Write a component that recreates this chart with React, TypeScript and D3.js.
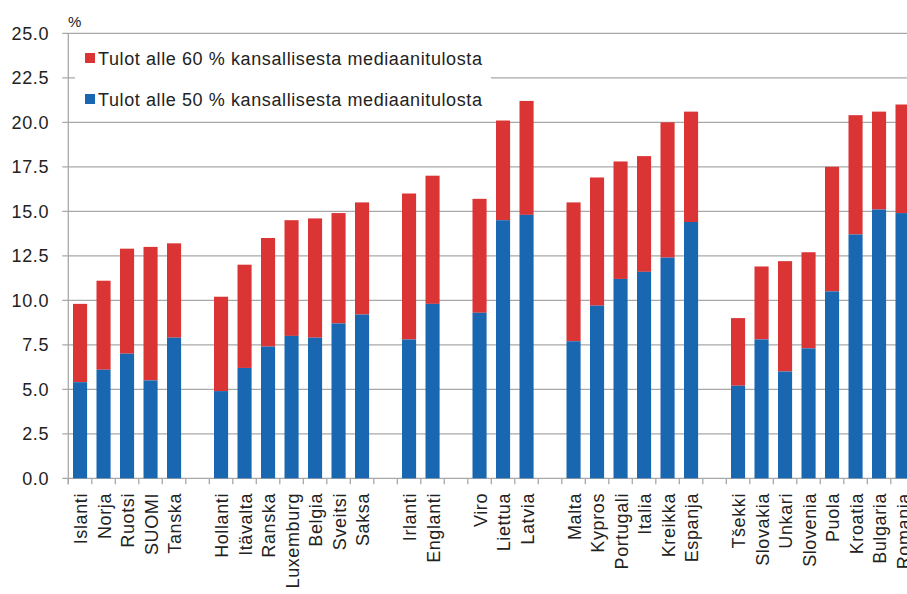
import React from "react";
import * as d3 from "d3";

// countries in display order, split into regional groups
const countries = [
  "Islanti", "Norja", "Ruotsi", "SUOMI", "Tanska",
  "Hollanti", "Itävalta", "Ranska", "Luxemburg", "Belgia", "Sveitsi", "Saksa",
  "Irlanti", "Englanti",
  "Viro", "Liettua", "Latvia",
  "Malta", "Kypros", "Portugali", "Italia", "Kreikka", "Espanja",
  "Tšekki", "Slovakia", "Unkari", "Slovenia", "Puola", "Kroatia", "Bulgaria", "Romania",
];
const groupSizes = [5, 7, 2, 3, 6, 8];

// % with income below 60 % of national median
const below60 = [
  9.8, 11.1, 12.9, 13.0, 13.2,
  10.2, 12.0, 13.5, 14.5, 14.6, 14.9, 15.5,
  16.0, 17.0,
  15.7, 20.1, 21.2,
  15.5, 16.9, 17.8, 18.1, 20.0, 20.6,
  9.0, 11.9, 12.2, 12.7, 17.5, 20.4, 20.6, 21.0,
];
// % with income below 50 % of national median
const below50 = [
  5.4, 6.1, 7.0, 5.5, 7.9,
  4.9, 6.2, 7.4, 8.0, 7.9, 8.7, 9.2,
  7.8, 9.8,
  9.3, 14.5, 14.8,
  7.7, 9.7, 11.2, 11.6, 12.4, 14.4,
  5.2, 7.8, 6.0, 7.3, 10.5, 13.7, 15.1, 14.9,
];

const yTicks = [0, 2.5, 5, 7.5, 10, 12.5, 15, 17.5, 20, 22.5, 25];
const legendLabels = [
  "Tulot alle 60 % kansallisesta mediaanitulosta",
  "Tulot alle 50 % kansallisesta mediaanitulosta",
];

const RED = "#db3434";
const BLUE = "#1967b1";
const GRID = "#a8a8a8";
const FONT = "'Liberation Sans', Arial, sans-serif";

export default function App() {
  const width = 907;
  const height = 594;

  // slot keys: countries plus empty gap slots between groups
  const slots: string[] = [];
  let idx = 0;
  groupSizes.forEach((n, g) => {
    for (let i = 0; i < n; i++) slots.push(countries[idx++]);
    if (g < groupSizes.length - 1) slots.push("gap" + g);
  });

  const left = 68.3;
  const slotW = 23.5;
  const x = d3
    .scaleBand<string>()
    .domain(slots)
    .range([left, left + slots.length * slotW])
    .paddingInner(0)
    .paddingOuter(0);
  const y = d3.scaleLinear().domain([0, 25]).range([478.3, 33.3]);

  const barW = x.bandwidth() * 0.6;
  const boundaries = d3.range(slots.length + 1).map((i) => left + i * x.step());

  return (
    <svg
      width={width}
      height={height}
      style={{ position: "absolute", left: 0, top: 0, background: "#fff" }}
      fontFamily={FONT}
    >
      {/* gridlines */}
      {yTicks.map((t) => (
        <line key={"g" + t} x1={left - 6} x2={width} y1={y(t)} y2={y(t)} stroke={GRID} strokeWidth={1.3} />
      ))}
      {/* y axis line */}
      <line x1={left} x2={left} y1={y(25)} y2={y(0) + 6} stroke={GRID} strokeWidth={1.3} />
      {/* x ticks */}
      {boundaries.map((bx, i) => (
        <line key={"xt" + i} x1={bx} x2={bx} y1={y(0)} y2={y(0) + 6} stroke={GRID} strokeWidth={1.3} />
      ))}
      {/* y tick labels */}
      {yTicks.map((t) => (
        <text
          key={"yl" + t}
          x={49}
          y={y(t)}
          dy="0.36em"
          textAnchor="end"
          fontSize={18}
          letterSpacing={0.6}
          fill="#222"
        >
          {t.toFixed(1)}
        </text>
      ))}
      <text x={68} y={27} fontSize={15} fill="#222">%</text>

      {/* legend */}
      <rect x={75} y={37} width={416} height={78} fill="#fff" />
      {legendLabels.map((lab, i) => (
        <g key={lab} transform={`translate(85, ${53 + i * 41})`}>
          <rect width={10} height={10} fill={i === 0 ? RED : BLUE} />
          <text x={13} y={11.5} fontSize={18} letterSpacing={0.6} fill="#222">
            {lab}
          </text>
        </g>
      ))}

      {/* bars */}
      {countries.map((c, i) => {
        const cx = (x(c) as number) + x.bandwidth() / 2;
        return (
          <g key={c}>
            <rect
              x={cx - barW / 2}
              width={barW}
              y={y(below60[i])}
              height={y(below50[i]) - y(below60[i])}
              fill={RED}
            />
            <rect
              x={cx - barW / 2}
              width={barW}
              y={y(below50[i])}
              height={y(0) - y(below50[i])}
              fill={BLUE}
            />
          </g>
        );
      })}

      {/* category labels */}
      {countries.map((c) => {
        const cx = (x(c) as number) + x.bandwidth() / 2;
        return (
          <text
            key={"l" + c}
            transform={`translate(${cx + 7}, 493) rotate(-90)`}
            textAnchor="end"
            fontSize={18}
            letterSpacing={0.6}
            fill="#222"
          >
            {c}
          </text>
        );
      })}
    </svg>
  );
}
